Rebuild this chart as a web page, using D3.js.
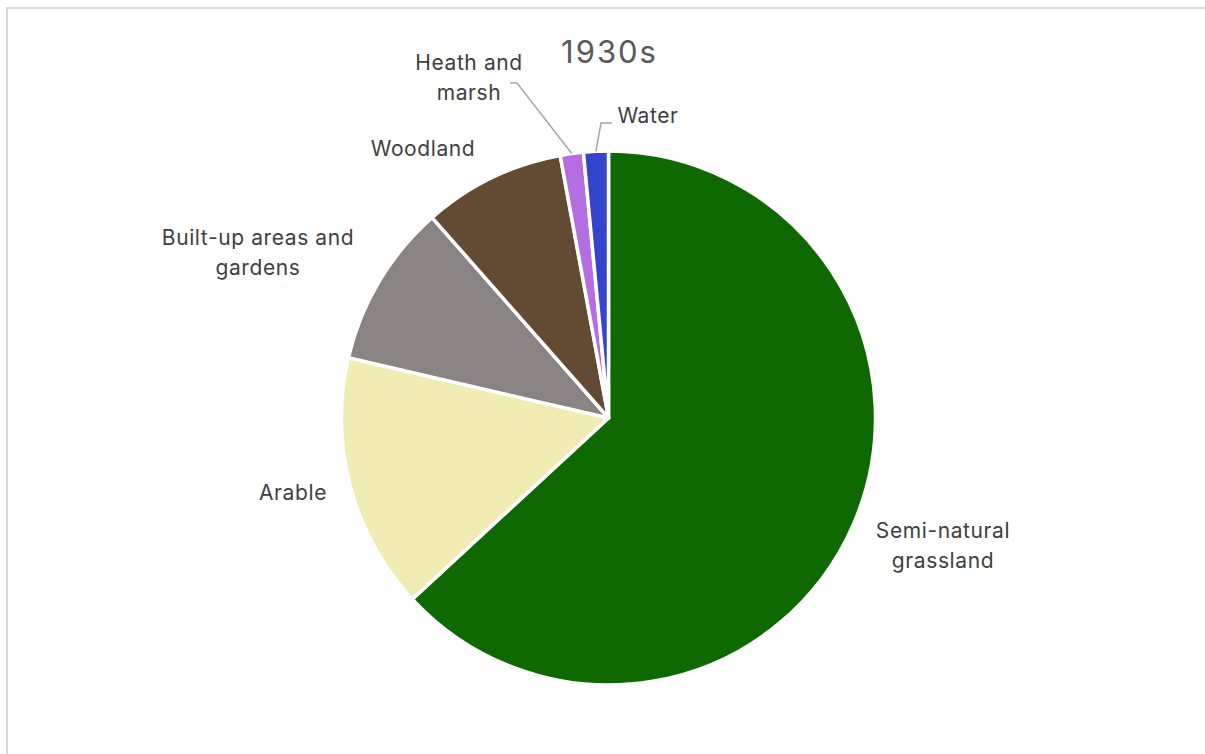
<!DOCTYPE html>
<html>
<head>
<meta charset="utf-8">
<script src="https://cdn.jsdelivr.net/npm/d3@7"></script>
<style>
  html, body { margin: 0; padding: 0; background: #fff; }
  svg { display: block; }
</style>
</head>
<body>
<svg id="chart" width="1205" height="754"></svg>
<script>
// Land cover shares, 1930s (percent of total area)
const categories = ["Semi-natural grassland", "Arable", "Built-up areas and gardens", "Woodland", "Heath and marsh", "Water"];
const shares = [63.2, 15.5, 9.9, 8.6, 1.4, 1.5];
const colors = ["#0e6a00", "#f0ecb4", "#898384", "#634b33", "#b46ee2", "#3444cc"];
const title = "1930s";

// Label text broken into lines, and where each label sits relative to the pie centre
const labelLines = [["Semi-natural", "grassland"], ["Arable"], ["Built-up areas and", "gardens"], ["Woodland"], ["Heath and", "marsh"], ["Water"]];
const labelOffset = [[334.5, 128], [-315.5, 75], [-350.5, -165], [-185.5, -269], [-139.5, -340], [39.5, -302]];
// Leader lines for the thin slices: elbow point and end point, relative to the centre
const leaders = { 4: [[-91.5, -335], [-98.5, -335]], 5: [[-7.5, -295], [3.5, -295]] };

const svg = d3.select("#chart");
const W = 1205, H = 754;
const cx = 608.5, cy = 418, r = 267;
const font = "Inter, 'Open Sans', sans-serif";

// chart area frame
svg.append("rect")
  .attr("x", 7).attr("y", 8).attr("width", W + 10).attr("height", H + 10)
  .attr("fill", "#fff").attr("stroke", "#d9d9d9").attr("stroke-width", 2);

svg.append("text")
  .attr("x", cx + 1).attr("y", 52).attr("dy", "0.35em")
  .attr("text-anchor", "middle")
  .attr("font-family", font)
  .attr("font-size", 31)
  .attr("letter-spacing", 2)
  .attr("fill", "#595959")
  .text(title);

const data = categories.map((c, i) => ({ name: c, value: shares[i], color: colors[i], i }));
const pie = d3.pie().value(d => d.value).sort(null);
const arc = d3.arc().innerRadius(0).outerRadius(r);
const arcs = pie(data);

const g = svg.append("g").attr("transform", `translate(${cx},${cy})`);

g.selectAll("path.slice")
  .data(arcs)
  .join("path")
  .attr("class", "slice")
  .attr("d", arc)
  .attr("fill", d => d.data.color)
  .attr("stroke", "#fff")
  .attr("stroke-width", 3.5)
  .attr("stroke-linejoin", "round");

// leader lines from slice edge to label
arcs.forEach(a => {
  const pts = leaders[a.data.i];
  if (!pts) return;
  const mid = (a.startAngle + a.endAngle) / 2;
  const start = [Math.sin(mid) * r, -Math.cos(mid) * r];
  g.append("path")
    .attr("d", d3.line()([start, ...pts]))
    .attr("fill", "none")
    .attr("stroke", "#a6a6a6")
    .attr("stroke-width", 1.5);
});

// category labels
arcs.forEach(a => {
  const i = a.data.i;
  const lines = labelLines[i];
  const [ox, oy] = labelOffset[i];
  const lh = 30;
  const t = g.append("text")
    .attr("text-anchor", "middle")
    .attr("font-family", font)
    .attr("font-size", 21)
    .attr("letter-spacing", 0.6)
    .attr("fill", "#404040");
  lines.forEach((ln, k) => {
    t.append("tspan")
      .attr("x", ox)
      .attr("y", oy + (k - (lines.length - 1) / 2) * lh)
      .attr("dy", "0.35em")
      .text(ln);
  });
});
</script>
</body>
</html>
